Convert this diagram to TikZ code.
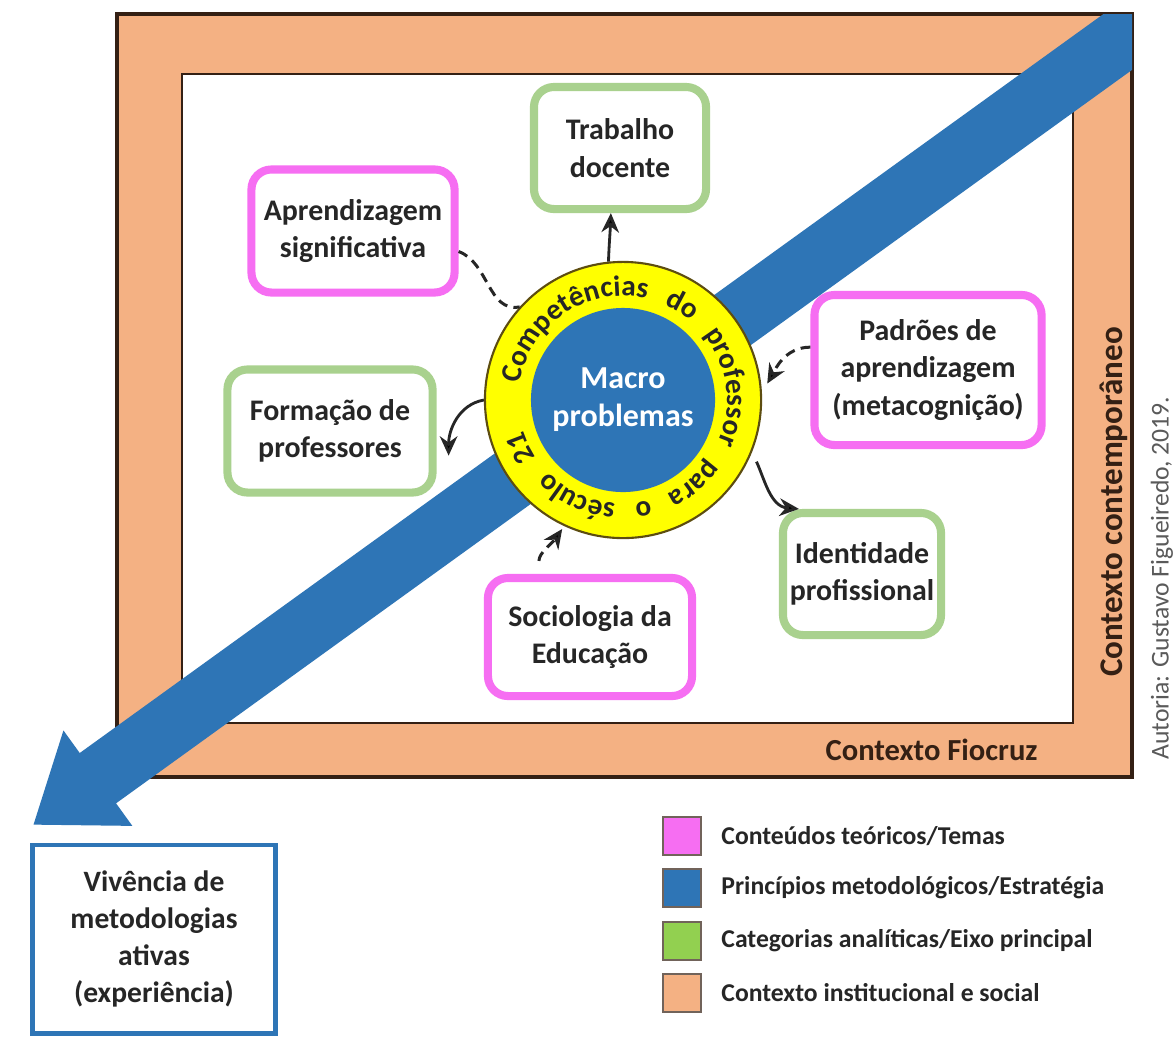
\documentclass[tikz,border=0pt]{standalone}
\usepackage{fontspec}
\setmainfont{Carlito}
\usetikzlibrary{arrows.meta,decorations.text}

\definecolor{laranja}{RGB}{244,177,131}
\definecolor{escuro}{RGB}{52,32,20}
\definecolor{azul}{RGB}{46,117,182}
\definecolor{amarelo}{RGB}{255,255,0}
\definecolor{rosa}{RGB}{246,110,242}
\definecolor{verde}{RGB}{169,209,142}
\definecolor{verdeleg}{RGB}{146,208,80}
\definecolor{texto}{RGB}{38,38,38}
\definecolor{cinza}{RGB}{90,90,90}

\tikzset{
	caixa/.style={draw, line width=2.3pt, rounded corners=0.2cm, fill=white, align=center, text=texto,
		font=\fontsize{8.5}{10.6}\selectfont\bfseries, inner sep=0pt},
	tema/.style={caixa, draw=rosa},
	categoria/.style={caixa, draw=verde},
	liga/.style={-{Stealth[length=5.5pt,width=5pt]}, line width=0.8pt, draw=texto},
	tracejado/.style={line width=0.85pt, draw=texto, dash pattern=on 2.8pt off 1.8pt},
	quadrado/.style={draw=escuro!70, line width=0.5pt, minimum size=0.38cm, inner sep=0pt},
	legenda/.style={anchor=west, text=texto, font=\fontsize{7.3}{9}\selectfont\bfseries},
	contexto/.style={text=escuro, font=\fontsize{8.7}{10}\selectfont\bfseries}
}

\begin{document}
\begin{tikzpicture}[x=0.01cm, y=-0.01cm]
	\useasboundingbox[fill=white] (0,0) rectangle (1174,1036);
	% moldura de contexto
	\draw[fill=laranja, draw=escuro, line width=1.2pt] (117,14) rectangle (1132,777);
	\draw[fill=white, draw=escuro, line width=0.7pt] (182,74) rectangle (1073,723);
	\node[contexto, anchor=east] (fiocruz) at (1050,750) {Contexto Fiocruz};
	\node[contexto, rotate=90, font=\fontsize{9.4}{11}\selectfont\bfseries] (contemp) at (1114,502) {Contexto contempor\^aneo};
	\node[rotate=90, text=cinza, font=\fontsize{7.3}{9}\selectfont] (autoria) at (1162,578) {Autoria: Gustavo Figueiredo, 2019.};

	% faixa azul
	\begin{scope}
		\clip (0,14) rectangle (1132,1036);
		\coordinate (ponta) at (33,825);
		\draw[azul, line width=0.62cm, -{Triangle[length=0.8cm,width=1.12cm]}] (1180,-3) -- (ponta);
	\end{scope}

	% boxes
	\node[categoria, minimum width=1.72cm, minimum height=1.22cm] (trab) at (620,148) {Trabalho\\docente};
	\node[tema, minimum width=2.03cm, minimum height=1.23cm] (apr) at (353,231) {Aprendizagem\\significativa};
	\node[tema, minimum width=2.27cm, minimum height=1.50cm] (pad) at (928,370) {Padr\~oes de\\aprendizagem\\(metacogni\c{c}\~ao)};
	\node[categoria, minimum width=2.05cm, minimum height=1.23cm] (form) at (330,431) {Forma\c{c}\~ao de\\professores};
	\node[categoria, minimum width=1.58cm, minimum height=1.22cm] (ident) at (862,574) {Identidade\\profissional};
	\node[tema, minimum width=2.04cm, minimum height=1.18cm] (soc) at (590,637) {Sociologia da\\Educa\c{c}\~ao};

	% circle
	\node[circle, draw=escuro!80!amarelo, line width=0.6pt, fill=amarelo, minimum size=2.76cm, inner sep=0pt] (anel) at (623,400) {};
	\node[circle, fill=azul, minimum size=1.84cm, inner sep=0pt, align=center, text=white,
		font=\fontsize{9.1}{10.8}\selectfont\bfseries] (macro) at (anel.center) {Macro\\problemas};
	\path[decorate, decoration={text along path, text color=texto,
		text={|\fontsize{8.3}{10}\selectfont\bfseries|Competências do professor para o século 21},
		text align={fit to path stretching spaces}}]
		(anel.center) ++(171:1.04cm) arc[start angle=171, end angle=-163, radius=1.04cm];

	% connectors
	\draw[liga] (anel.96) to[out=88, in=-92] (trab.-98);
	\draw[tracejado] (apr.-11) to[out=-20, in=190] (anel.138);
	\draw[liga, tracejado, shorten >=3pt] (pad.169) to[out=180, in=60] (anel.3);
	\draw[liga] (anel.180) to[out=190, in=90] ([xshift=0.12cm]form.-13);
	\draw[liga, shorten <=3pt] (anel.-22) to[out=-65, in=175] ([xshift=0.2cm]ident.north west);
	\draw[liga, tracejado, shorten <=3.7pt, shorten >=1pt] (soc.129) to[out=90, in=235] (anel.-115);

	% experiencia
	\node[draw=azul, line width=1.4pt, fill=white, minimum width=2.42cm, minimum height=1.88cm, align=center,
		text=texto, font=\fontsize{8.4}{10.6}\selectfont\bfseries] (viv) at (154,939) {Viv\^encia de\\metodologias\\ativas\\(experi\^encia)};

	% legenda
	\node[quadrado, fill=rosa] (q1) at (682,836) {};
	\node[quadrado, fill=azul] (q2) at (682,888) {};
	\node[quadrado, fill=verdeleg] (q3) at (682,941) {};
	\node[quadrado, fill=laranja] (q4) at (682,993) {};
	\node[legenda] (t1) at (709,836) {Conte\'udos te\'oricos/Temas};
	\node[legenda] (t2) at (709,888) {Princ\'ipios metodol\'ogicos/Estrat\'egia};
	\node[legenda] (t3) at (709,941) {Categorias anal\'iticas/Eixo principal};
	\node[legenda] (t4) at (709,993) {Contexto institucional e social};
\end{tikzpicture}
\end{document}
